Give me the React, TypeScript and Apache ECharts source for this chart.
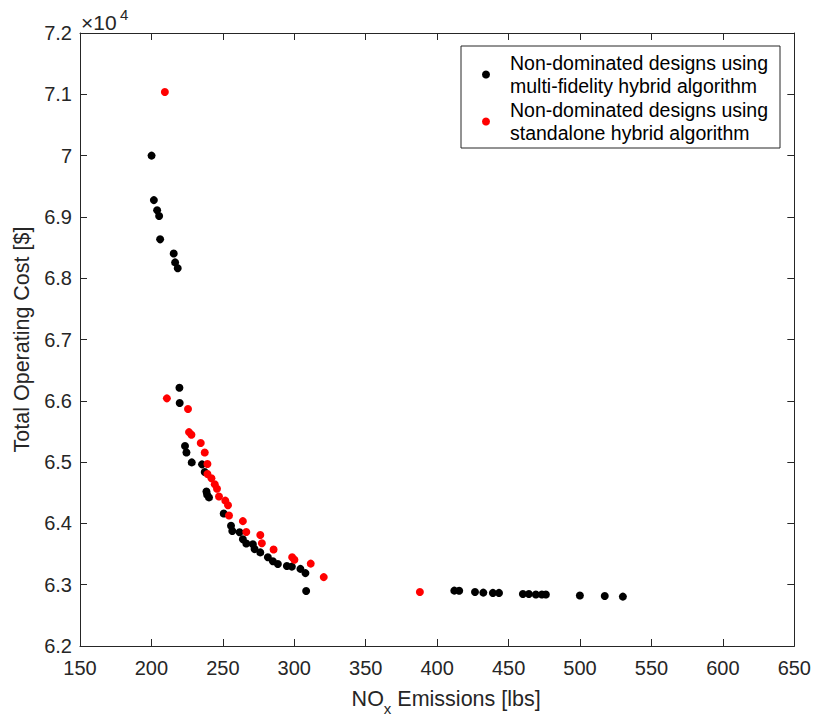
import React, { useEffect, useRef } from "react";
import * as echarts from "echarts";

const multiFidelityNOx = [
  200.1, 201.7, 204.0, 205.4, 206.1, 215.6, 216.6, 218.4, 219.6, 219.8,
  223.5, 224.5, 228.2, 235.4, 237.3, 238.5, 239.0, 240.3, 250.6, 255.7,
  256.6, 261.7, 264.0, 266.4, 271.0, 272.2, 276.2, 281.5, 285.0, 288.5,
  294.8, 298.3, 304.3, 307.8, 308.3, 412.0, 415.4, 426.5, 432.3, 439.0,
  443.3, 460.0, 464.2, 469.1, 473.3, 476.1, 499.9, 517.3, 530.0,
];
const multiFidelityCost = [
  70000, 69274, 69108, 69016, 68634, 68403, 68258, 68161, 66214, 65963,
  65263, 65156, 64995, 64963, 64839, 64521, 64468, 64424, 64161, 63963,
  63876, 63855, 63742, 63673, 63661, 63581, 63527, 63447, 63382, 63339,
  63306, 63295, 63258, 63189, 62898, 62903, 62900, 62882, 62871, 62866,
  62866, 62847, 62847, 62839, 62839, 62839, 62823, 62815, 62806,
];

const standaloneNOx = [
  209.4, 210.8, 225.6, 226.3, 228.0, 234.5, 237.3, 239.2, 239.2, 242.0,
  244.3, 245.9, 247.3, 251.7, 253.6, 254.3, 264.0, 266.4, 276.2, 277.3,
  285.5, 298.5, 300.1, 311.5, 320.6, 387.9,
];
const standaloneCost = [
  71037, 66040, 65866, 65489, 65447, 65311, 65156, 64968, 64806, 64737,
  64640, 64565, 64440, 64371, 64295, 64129, 64037, 63860, 63811, 63677,
  63573, 63447, 63408, 63344, 63124, 62882,
];

const seriesNames = [
  "Non-dominated designs using\nmulti-fidelity hybrid algorithm",
  "Non-dominated designs using\nstandalone hybrid algorithm",
];

const FONT = "'Liberation Sans', Arial, Helvetica, sans-serif";
const AX = "#262626";

export default function App() {
  const ref = useRef<HTMLDivElement>(null);
  useEffect(() => {
    if (!ref.current) return;
    const chart = echarts.init(ref.current, null, { renderer: "svg" });
    const zip = (xs: number[], ys: number[]) => xs.map((x, i) => [x, ys[i]]);
    const tick = { show: true, inside: true, length: 7, lineStyle: { color: AX, width: 1 } };
    const line = { show: true, lineStyle: { color: AX, width: 1 } };
    chart.setOption({
      animation: false,
      backgroundColor: "#ffffff",
      textStyle: { fontFamily: FONT },
      grid: { left: 80, right: 18, top: 33, bottom: 70, containLabel: false },
      xAxis: [
        {
          type: "value",
          min: 150,
          max: 650,
          interval: 50,
          position: "bottom",
          axisLine: line,
          axisTick: tick,
          splitLine: { show: false },
          axisLabel: { color: AX, fontSize: 20, margin: 12, fontFamily: FONT },
          name: "{a|NO}{s|x}{a| Emissions [lbs]}",
          nameLocation: "middle",
          nameGap: 36,
          nameTextStyle: {
            color: AX,
            fontFamily: FONT,
            padding: [0, 0, 0, 18],
            rich: {
              a: { fontSize: 21.5, lineHeight: 34, color: AX, fontFamily: FONT },
              s: { fontSize: 15, lineHeight: 15, verticalAlign: "bottom", color: AX, fontFamily: FONT },
            },
          },
        },
        {
          type: "value",
          min: 150,
          max: 650,
          interval: 50,
          position: "top",
          axisLine: line,
          axisTick: tick,
          splitLine: { show: false },
          axisLabel: { show: false },
        },
      ],
      yAxis: [
        {
          type: "value",
          min: 62000,
          max: 72000,
          interval: 1000,
          position: "left",
          axisLine: line,
          axisTick: tick,
          splitLine: { show: false },
          axisLabel: {
            color: AX,
            fontSize: 20,
            margin: 8,
            fontFamily: FONT,
            formatter: (v: number) => String(Math.round(v / 1000) / 10),
          },
          name: "Total Operating Cost [$]",
          nameLocation: "middle",
          nameGap: 47,
          nameTextStyle: { color: AX, fontSize: 21.5, fontFamily: FONT },
        },
        {
          type: "value",
          min: 62000,
          max: 72000,
          interval: 1000,
          position: "right",
          axisLine: line,
          axisTick: tick,
          splitLine: { show: false },
          axisLabel: { show: false },
        },
      ],
      legend: {
        orient: "vertical",
        left: 482,
        top: 51,
        padding: 0,
        itemGap: 0,
        itemWidth: 38,
        itemHeight: 8,
        icon: "circle",
        data: seriesNames,
        itemStyle: { opacity: 1 },
        textStyle: { color: "#000", fontSize: 19.5, lineHeight: 23.5, fontFamily: FONT },
      },
      graphic: [
        {
          type: "rect",
          shape: { x: 461, y: 46, width: 319, height: 102 },
          style: { fill: "none", stroke: AX, lineWidth: 1 },
          z: 100,
          silent: true,
        },
        {
          type: "text",
          x: 81,
          y: 22,
          style: { text: "×10", fontSize: 21, fontFamily: FONT, fill: AX, textVerticalAlign: "middle" },
        },
        {
          type: "text",
          x: 120,
          y: 14,
          style: { text: "4", fontSize: 15, fontFamily: FONT, fill: AX, textVerticalAlign: "middle" },
        },
      ],
      series: [
        {
          name: seriesNames[0],
          type: "scatter",
          xAxisIndex: 0,
          yAxisIndex: 0,
          symbol: "circle",
          symbolSize: 8,
          itemStyle: { color: "#000000", opacity: 1 },
          data: zip(multiFidelityNOx, multiFidelityCost),
        },
        {
          name: seriesNames[1],
          type: "scatter",
          xAxisIndex: 0,
          yAxisIndex: 0,
          symbol: "circle",
          symbolSize: 8,
          itemStyle: { color: "#ff0000", opacity: 1 },
          data: zip(standaloneNOx, standaloneCost),
        },
      ],
    });
    return () => chart.dispose();
  }, []);
  return (
    <div
      ref={ref}
      style={{ position: "fixed", left: 0, top: 0, width: 814, height: 721, background: "#fff" }}
    />
  );
}
